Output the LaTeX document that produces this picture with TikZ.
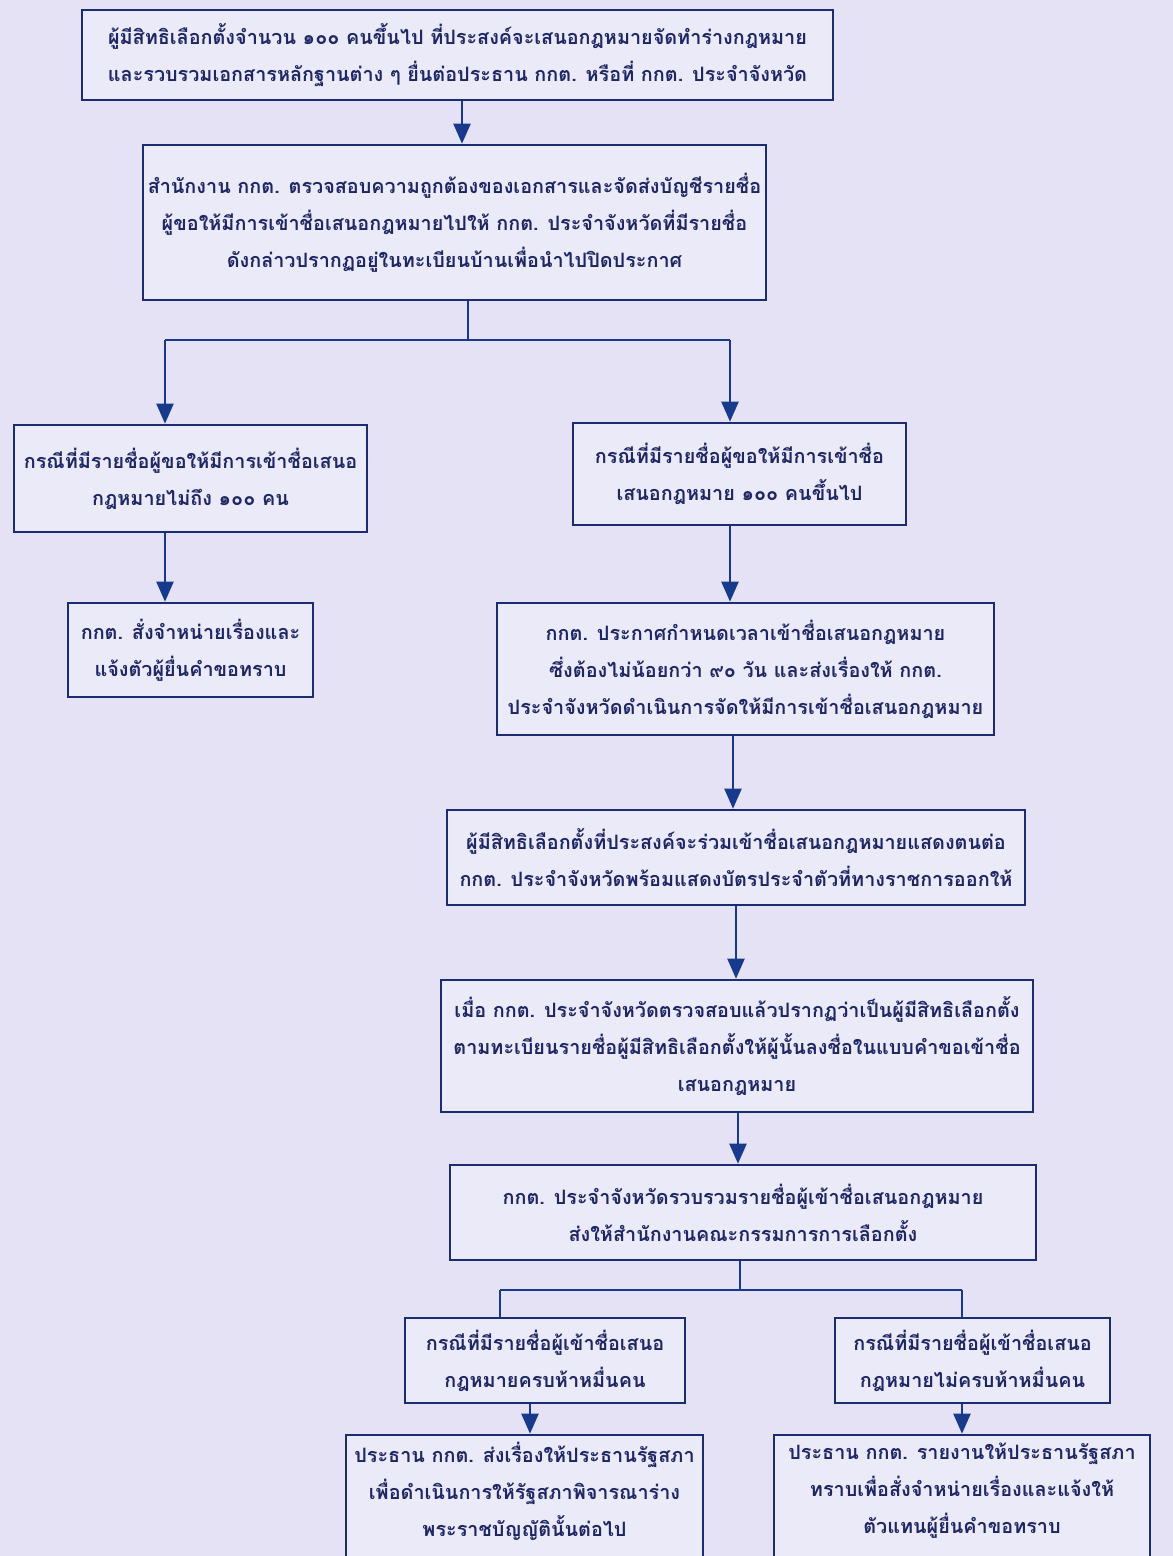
\documentclass[tikz,border=0pt]{standalone}
\usepackage{fontspec}
\newfontfamily\thaifont[Script=Thai]{Loma}
\usetikzlibrary{arrows.meta}
\definecolor{bgc}{RGB}{228,226,244}
\definecolor{boxfill}{RGB}{235,234,249}
\definecolor{boxc}{RGB}{28,44,112}
\definecolor{txtc}{RGB}{30,38,100}
\definecolor{linec}{RGB}{24,58,140}
\tikzset{
  box/.style={draw=boxc, line width=2.6pt, fill=boxfill, align=center, text=txtc,
    font=\thaifont\bfseries\fontsize{19.8}{37}\selectfont, inner sep=0pt},
  btext/.style={align=center, text=txtc, font=\thaifont\bfseries\fontsize{19.8}{37}\selectfont, inner sep=0pt},
  conn/.style={draw=linec, line width=2.2pt},
  arr/.style={conn, -{Triangle[length=20pt,width=17pt]}},
}
\begin{document}
\begin{tikzpicture}[x=1pt,y=-1pt]
\useasboundingbox (0,0) rectangle (1173,1556);
\clip (0,0) rectangle (1173,1556);
\fill[bgc] (0,0) rectangle (1173,1556);

\node[box, minimum width=751pt, minimum height=90pt] (b1) at (457.5,55)
 {ผู้มีสิทธิเลือกตั้งจำนวน ๑๐๐ คนขึ้นไป ที่ประสงค์จะเสนอกฎหมายจัดทำร่างกฎหมาย\\และรวบรวมเอกสารหลักฐานต่าง ๆ ยื่นต่อประธาน กกต. หรือที่ กกต. ประจำจังหวัด};
\node[box, minimum width=623pt, minimum height=155pt] (b2) at (454.5,222.5)
 {สำนักงาน กกต. ตรวจสอบความถูกต้องของเอกสารและจัดส่งบัญชีรายชื่อ\\ผู้ขอให้มีการเข้าชื่อเสนอกฎหมายไปให้ กกต. ประจำจังหวัดที่มีรายชื่อ\\ดังกล่าวปรากฏอยู่ในทะเบียนบ้านเพื่อนำไปปิดประกาศ};
\node[box, minimum width=353pt, minimum height=107pt] (b3) at (190.5,478.5)
 {กรณีที่มีรายชื่อผู้ขอให้มีการเข้าชื่อเสนอ\\กฎหมายไม่ถึง ๑๐๐ คน};
\node[box, minimum width=333pt, minimum height=102pt] (b4) at (739.5,474)
 {กรณีที่มีรายชื่อผู้ขอให้มีการเข้าชื่อ\\เสนอกฎหมาย ๑๐๐ คนขึ้นไป};
\node[box, minimum width=245pt, minimum height=94pt] (b5) at (190.5,650)
 {กกต. สั่งจำหน่ายเรื่องและ\\แจ้งตัวผู้ยื่นคำขอทราบ};
\node[box, minimum width=497pt, minimum height=132pt] (b6) at (745.5,669)
 {กกต. ประกาศกำหนดเวลาเข้าชื่อเสนอกฎหมาย\\ซึ่งต้องไม่น้อยกว่า ๙๐ วัน และส่งเรื่องให้ กกต.\\ประจำจังหวัดดำเนินการจัดให้มีการเข้าชื่อเสนอกฎหมาย};
\node[box, minimum width=578pt, minimum height=95pt] (b7) at (736,857.5)
 {ผู้มีสิทธิเลือกตั้งที่ประสงค์จะร่วมเข้าชื่อเสนอกฎหมายแสดงตนต่อ\\กกต. ประจำจังหวัดพร้อมแสดงบัตรประจำตัวที่ทางราชการออกให้};
\node[box, minimum width=592pt, minimum height=132pt] (b8) at (737,1046)
 {เมื่อ กกต. ประจำจังหวัดตรวจสอบแล้วปรากฏว่าเป็นผู้มีสิทธิเลือกตั้ง\\ตามทะเบียนรายชื่อผู้มีสิทธิเลือกตั้งให้ผู้นั้นลงชื่อในแบบคำขอเข้าชื่อ\\เสนอกฎหมาย};
\node[box, minimum width=586pt, minimum height=95pt] (b9) at (743,1212.5)
 {กกต. ประจำจังหวัดรวบรวมรายชื่อผู้เข้าชื่อเสนอกฎหมาย\\ส่งให้สำนักงานคณะกรรมการการเลือกตั้ง};
\node[box, minimum width=280pt, minimum height=85pt] (b10a) at (545,1360.5)
 {กรณีที่มีรายชื่อผู้เข้าชื่อเสนอ\\กฎหมายครบห้าหมื่นคน};
\node[box, minimum width=275pt, minimum height=85pt] (b10b) at (972.5,1360.5)
 {กรณีที่มีรายชื่อผู้เข้าชื่อเสนอ\\กฎหมายไม่ครบห้าหมื่นคน};
\node[box, minimum width=357pt, minimum height=165pt] (b11a) at (524.5,1517.5) {};
\node[btext] (t11a) at (524.5,1491)
 {ประธาน กกต. ส่งเรื่องให้ประธานรัฐสภา\\เพื่อดำเนินการให้รัฐสภาพิจารณาร่าง\\พระราชบัญญัตินั้นต่อไป};
\node[box, minimum width=376pt, minimum height=165pt] (b11b) at (962,1517.5) {};
\node[btext] (t11b) at (962,1491)
 {ประธาน กกต. รายงานให้ประธานรัฐสภา\\ทราบเพื่อสั่งจำหน่ายเรื่องและแจ้งให้\\ตัวแทนผู้ยื่นคำขอทราบ};

% connectors
\coordinate (c12) at (462,0);
\draw[arr] (c12 |- b1.south) -- (c12 |- b2.north);

\coordinate (j1) at (468,340);
\coordinate (jl) at (165,340);
\coordinate (jr) at (730,340);
\draw[conn] (j1 |- b2.south) -- (j1);
\draw[conn] (jl) -- (jr);
\draw[arr] (jl) -- (jl |- b3.north);
\draw[arr] (jr) -- (jr |- b4.north);

\draw[arr] (jl |- b3.south) -- (jl |- b5.north);
\draw[arr] (jr |- b4.south) -- (jr |- b6.north);

\coordinate (c67) at (733,0);
\draw[arr] (c67 |- b6.south) -- (c67 |- b7.north);
\coordinate (c78) at (736,0);
\draw[arr] (c78 |- b7.south) -- (c78 |- b8.north);
\coordinate (c89) at (738,0);
\draw[arr] (c89 |- b8.south) -- (c89 |- b9.north);

\coordinate (j2) at (740,1290);
\coordinate (kl) at (500,1290);
\coordinate (kr) at (962,1290);
\draw[conn] (j2 |- b9.south) -- (j2);
\draw[conn] (kl) -- (kr);
\draw[conn] (kl) -- (kl |- b10a.north);
\draw[conn] (kr) -- (kr |- b10b.north);

\coordinate (cl) at (530,0);
\draw[arr] (cl |- b10a.south) -- (cl |- b11a.north);
\coordinate (cr) at (962,0);
\draw[arr] (cr |- b10b.south) -- (cr |- b11b.north);
\end{tikzpicture}
\end{document}
